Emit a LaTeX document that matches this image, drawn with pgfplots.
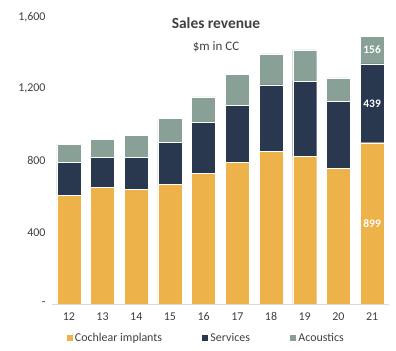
\documentclass[border=0pt]{standalone}
\usepackage{pgfplots}
\pgfplotsset{compat=1.18}
\usepackage{fontspec}
\setmainfont{Carlito}
\definecolor{cgold}{HTML}{EDB24A}
\definecolor{cnavy}{HTML}{29374F}
\definecolor{cgreen}{HTML}{88A096}
\definecolor{ctext}{HTML}{404040}
\definecolor{caxis}{HTML}{D9D9D9}
\begin{document}
\begin{tikzpicture}[x=1bp,y=1bp]
\path[use as bounding box] (-52,-47) rectangle (344,304);
\begin{axis}[
  at={(0,0)}, anchor=south west,
  scale only axis, width=337bp, height=287bp,
  ybar stacked, bar width=24bp,
  xmin=-0.5, xmax=9.5, ymin=0, ymax=1600,
  xtick={0,...,9}, xticklabels={12,13,14,15,16,17,18,19,20,21},
  ytick={0,400,800,1200,1600}, yticklabels={-,400,800,{1,200},{1,600}},
  axis line style={draw=none},
  major tick length=0pt,
  ticklabel style={font=\fontsize{12}{14}\selectfont, text=ctext},
  xticklabel style={yshift=-5bp},
  yticklabel style={xshift=-3bp},
  legend columns=3,
  legend style={at={(0.456,-0.118)}, anchor=center, draw=none, fill=none,
    font=\fontsize{12}{14}\selectfont, text=ctext,
    /tikz/every even column/.append style={column sep=37bp}},
  legend image code/.code={\fill[#1] (0bp,-3.5bp) rectangle (7bp,3.5bp);},
  clip=false,
]
\addplot[fill=cgold, draw=white, line width=0.4bp] coordinates {(0,605) (1,650) (2,638) (3,666) (4,728) (5,790) (6,851) (7,823) (8,756) (9,899)};
\addplot[fill=cnavy, draw=white, line width=0.4bp] coordinates {(0,185) (1,168) (2,180) (3,236) (4,286) (5,319) (6,370) (7,420) (8,375) (9,439)};
\addplot[fill=cgreen, draw=white, line width=0.4bp] coordinates {(0,100) (1,100) (2,123) (3,134) (4,140) (5,173) (6,173) (7,174) (8,129) (9,156)};
\legend{Cochlear implants, Services, Acoustics}
\coordinate (bl) at (axis cs:-0.5,0);
\coordinate (br) at (axis cs:9.5,0);
\coordinate (la) at (axis cs:9,1416);
\coordinate (lb) at (axis cs:9,1118);
\coordinate (lc) at (axis cs:9,450);
\end{axis}
\draw[caxis, line width=0.8bp] (bl) -- (br);
\node[text=white, font=\fontsize{11.5}{13}\selectfont\bfseries] at (la) {156};
\node[text=white, font=\fontsize{11.5}{13}\selectfont\bfseries] at (lb) {439};
\node[text=white, font=\fontsize{11.5}{13}\selectfont\bfseries] at (lc) {899};
\node[text=ctext, font=\fontsize{15.5}{18}\selectfont\bfseries] at (164,281) {Sales revenue};
\node[text=ctext, font=\fontsize{13}{15}\selectfont] at (164,257) {\$m in CC};
\end{tikzpicture}
\end{document}
